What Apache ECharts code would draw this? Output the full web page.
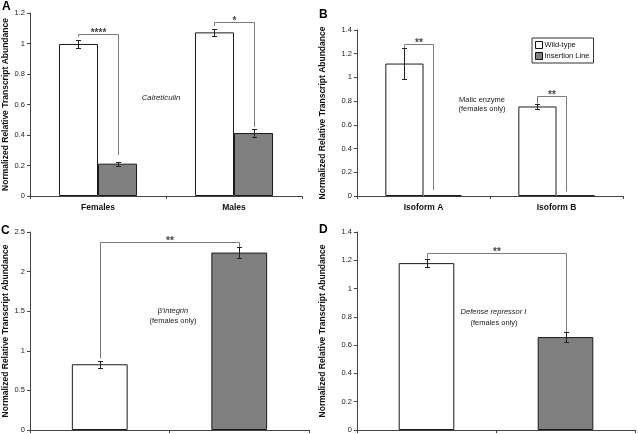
<!DOCTYPE html>
<html><head><meta charset="utf-8">
<script src="https://cdn.jsdelivr.net/npm/echarts@6/dist/echarts.min.js"></script>
<style>html,body{margin:0;padding:0;background:#fff}#c{width:638px;height:434px}</style>
</head><body><div id="c"></div>
<script>
// ---------- DATA ----------
const seriesNames = ['Wild-type', 'Insertion Line'];

const catsA = ['Females', 'Males'];
const wtA = [0.997, 1.073];
const ilA = [0.212, 0.413];
const wtErrA = [0.025, 0.024];
const ilErrA = [0.012, 0.026];
const yTicksA = [0, 0.2, 0.4, 0.6, 0.8, 1, 1.2];
// significance brackets: [fromCat, fromY, toCat, toY, topY]
const sigA = [[0, 1.045, 0, 0.269, 1.062], [1, 1.115, 1, 0.454, 1.139]];
const sigMarksA = ['****', '*'];

const catsB = ['Isoform A', 'Isoform B'];
const wtB = [1.117, 0.755];
const ilB = [0.006, 0.004];
const wtErrB = [0.131, 0.024];
const ilErrB = [0, 0];
const yTicksB = [0, 0.2, 0.4, 0.6, 0.8, 1, 1.2, 1.4];
const sigB = [[0, 1.248, 0, 0.05, 1.285], [1, 0.78, 1, 0.036, 0.844]];
const sigMarksB = ['**', '**'];

const catsC = ['Wild-type', 'Insertion Line'];
const wtC = [0.83, null];
const ilC = [null, 2.24];
const wtErrC = [0.045];
const ilErrC = [0.07];
const yTicksC = [0, 0.5, 1, 1.5, 2, 2.5];
const sigC = [[0, 0.903, 1, 2.311, 2.374]];
const sigMarksC = ['**'];

const catsD = ['Wild-type', 'Insertion Line'];
const wtD = [1.18, null];
const ilD = [null, 0.657];
const wtErrD = [0.031];
const ilErrD = [0.033];
const yTicksD = [0, 0.2, 0.4, 0.6, 0.8, 1, 1.2, 1.4];
const sigD = [[0, 1.212, 1, 0.687, 1.252]];
const sigMarksD = ['**'];

const yTitle = 'Normalized Relative Transcript Abundance';

// ---------- LAYOUT / STYLE ----------
const FONT = '"Liberation Sans", Arial, Helvetica, sans-serif';
const panels = [
  {grid:{left:30, top:13, width:272, height:183}, cats:catsA, ticks:yTicksA, wt:wtA, il:ilA,
   wtErr:wtErrA.map((e,i)=>[i, wtA[i], e]), ilErr:ilErrA.map((e,i)=>[i, ilA[i], e]),
   barFrac:0.287, paired:true, showCat:true, nameGap:20, sig:sigA, marks:sigMarksA, legOff:[-0.1435, 0.1435]},
  {grid:{left:357, top:30, width:266, height:166}, cats:catsB, ticks:yTicksB, wt:wtB, il:ilB,
   wtErr:wtErrB.map((e,i)=>[i, wtB[i], e]), ilErr:ilErrB.map((e,i)=>[i, ilB[i], e]),
   barFrac:0.287, paired:true, showCat:true, nameGap:30, sig:sigB, marks:sigMarksB, legOff:[-0.1435, 0.075]},
  {grid:{left:30, top:232, width:279, height:199}, cats:catsC, ticks:yTicksC, wt:wtC, il:ilC,
   wtErr:[[0, wtC[0], wtErrC[0]]], ilErr:[[1, ilC[1], ilErrC[0]]],
   barFrac:0.40, paired:false, showCat:false, nameGap:20, sig:sigC, marks:sigMarksC, legOff:[0, 0]},
  {grid:{left:357, top:232, width:278, height:199}, cats:catsD, ticks:yTicksD, wt:wtD, il:ilD,
   wtErr:[[0, wtD[0], wtErrD[0]]], ilErr:[[1, ilD[1], ilErrD[0]]],
   barFrac:0.40, paired:false, showCat:false, nameGap:30, sig:sigD, marks:sigMarksD, legOff:[0, 0]}
];

function errRender(offFrac){
  return function(params, api){
    const ci = api.value(0), v = api.value(1), e = api.value(2);
    if (!e) return null;
    const band = api.size([1, 0])[0];
    const x = Math.round(api.coord([ci, v])[0] + offFrac * band) + 0.5;
    const top = Math.round(api.coord([ci, v + e])[1]) + 0.5;
    const bot = Math.round(api.coord([ci, v - e])[1]) + 0.5;
    const cw = 2.5, st = {stroke:'#222', lineWidth:1};
    return {type:'group', children:[
      {type:'line', shape:{x1:x, y1:top, x2:x, y2:bot}, style:st},
      {type:'line', shape:{x1:x-cw, y1:top, x2:x+cw, y2:top}, style:st},
      {type:'line', shape:{x1:x-cw, y1:bot, x2:x+cw, y2:bot}, style:st}
    ]};
  };
}
function sigRender(p){
  return function(params, api){
    const a = api.value(0), y1 = api.value(1), b = api.value(2), y2 = api.value(3), yt = api.value(4);
    const band = api.size([1, 0])[0];
    const x1 = Math.round(api.coord([a, y1])[0] + p.legOff[0] * band) + 0.5;
    const x2 = Math.round(api.coord([b, y2])[0] + p.legOff[1] * band) + 0.5;
    const py1 = api.coord([a, y1])[1], py2 = api.coord([b, y2])[1];
    const pyt = Math.round(api.coord([a, yt])[1]) + 0.5;
    return {type:'group', children:[
      {type:'polyline', shape:{points:[[x1, py1], [x1, pyt], [x2, pyt], [x2, py2]]},
       style:{stroke:'#7a7a7a', lineWidth:1, fill:null}},
      {type:'text', style:{x:(x1 + x2) / 2, y:pyt - 1, text:p.marks[params.dataIndex],
        font:'bold 10px ' + FONT, fill:'#444', textAlign:'center', textVerticalAlign:'middle',
        align:'center', verticalAlign:'middle'}}
    ]};
  };
}

const grid = [], xAxis = [], yAxis = [], series = [];
panels.forEach((p, i) => {
  grid.push(Object.assign({containLabel:false}, p.grid));
  xAxis.push({type:'category', gridIndex:i, data:p.cats, boundaryGap:true,
    axisLine:{lineStyle:{color:'#444', width:1}},
    axisTick:{show:true, length:3, alignWithLabel:false, lineStyle:{color:'#444'}},
    axisLabel:{show:p.showCat, margin:7, color:'#111', fontFamily:FONT, fontSize:8.5, fontWeight:'bold'},
    splitLine:{show:false}});
  yAxis.push({type:'value', gridIndex:i, min:p.ticks[0], max:p.ticks[p.ticks.length-1],
    interval:p.ticks[1] - p.ticks[0],
    name:yTitle, nameLocation:'middle', nameRotate:90, nameGap:p.nameGap,
    nameTextStyle:{fontFamily:FONT, fontSize:8.5, fontWeight:'bold', color:'#111'},
    axisLine:{show:true, lineStyle:{color:'#444', width:1}},
    axisTick:{show:true, length:3, lineStyle:{color:'#444'}},
    axisLabel:{margin:5, color:'#222', fontFamily:FONT, fontSize:7.5,
      formatter:v => String(+v.toFixed(2))},
    splitLine:{show:false}});
  const bw = (p.barFrac * 100).toFixed(1) + '%';
  series.push({type:'bar', name:seriesNames[0], xAxisIndex:i, yAxisIndex:i, data:p.wt,
    barWidth:bw, barGap:p.paired ? '0%' : '-100%',
    itemStyle:{color:'#ffffff', borderColor:'#1a1a1a', borderWidth:1}, silent:true, z:2});
  series.push({type:'bar', name:seriesNames[1], xAxisIndex:i, yAxisIndex:i, data:p.il,
    barWidth:bw, barGap:p.paired ? '0%' : '-100%',
    itemStyle:{color:'#808080', borderColor:'#1a1a1a', borderWidth:1}, silent:true, z:2});
  const off = p.paired ? p.barFrac / 2 : 0;
  series.push({type:'custom', xAxisIndex:i, yAxisIndex:i, data:p.wtErr, encode:{x:0, y:1},
    renderItem:errRender(-off), silent:true, z:5});
  series.push({type:'custom', xAxisIndex:i, yAxisIndex:i, data:p.ilErr, encode:{x:0, y:1},
    renderItem:errRender(off), silent:true, z:5});
  series.push({type:'custom', xAxisIndex:i, yAxisIndex:i, data:p.sig, encode:{x:[0, 2], y:[1, 3, 4]},
    renderItem:sigRender(p), silent:true, z:4});
});

const txt = (x, y, text, opts) => ({type:'text', x:x, y:y, silent:true,
  style:Object.assign({text:text, fill:'#222', font:'7.5px ' + FONT, textAlign:'center', textVerticalAlign:'middle'}, opts || {})});

const option = {
  animation:false,
  backgroundColor:'#ffffff',
  grid:grid, xAxis:xAxis, yAxis:yAxis, series:series,
  legend:{orient:'vertical', left:532, top:38, itemWidth:7, itemHeight:7, itemGap:3,
    borderColor:'#333', borderWidth:1, padding:[3, 4, 3, 3], borderRadius:0,
    selectedMode:false,
    data:[
      {name:seriesNames[0], icon:'rect', itemStyle:{color:'#ffffff', borderColor:'#111', borderWidth:1}},
      {name:seriesNames[1], icon:'rect', itemStyle:{color:'#808080', borderColor:'#111', borderWidth:1}}
    ],
    textStyle:{fontFamily:FONT, fontSize:7.5, color:'#111', padding:[0, 0, 0, -3]}},
  graphic:[
    txt(2, 6.5, 'A', {font:'bold 12px ' + FONT, fill:'#000', textAlign:'left'}),
    txt(319, 15, 'B', {font:'bold 12px ' + FONT, fill:'#000', textAlign:'left'}),
    txt(1, 231, 'C', {font:'bold 12px ' + FONT, fill:'#000', textAlign:'left'}),
    txt(319, 229.5, 'D', {font:'bold 12px ' + FONT, fill:'#000', textAlign:'left'}),
    txt(161, 97.5, 'Calreticulin', {font:'italic 7.8px ' + FONT}),
    txt(482, 99.5, 'Malic enzyme'),
    txt(482, 109, '(females only)'),
    {type:'text', x:173, y:311, silent:true, style:{text:'{n|β′}{i|integrin}', textAlign:'center', textVerticalAlign:'middle',
      rich:{n:{fontFamily:FONT, fontSize:7.5, fill:'#222', color:'#222'}, i:{fontFamily:FONT, fontSize:7.5, fontStyle:'italic', fill:'#222', color:'#222'}}}},
    txt(173, 320.5, '(females only)'),
    txt(493.5, 311.7, 'Defense repressor I', {font:'italic 7.5px ' + FONT}),
    txt(494, 323, '(females only)')
  ]
};
const chart = echarts.init(document.getElementById('c'));
chart.setOption(option);
</script></body></html>
